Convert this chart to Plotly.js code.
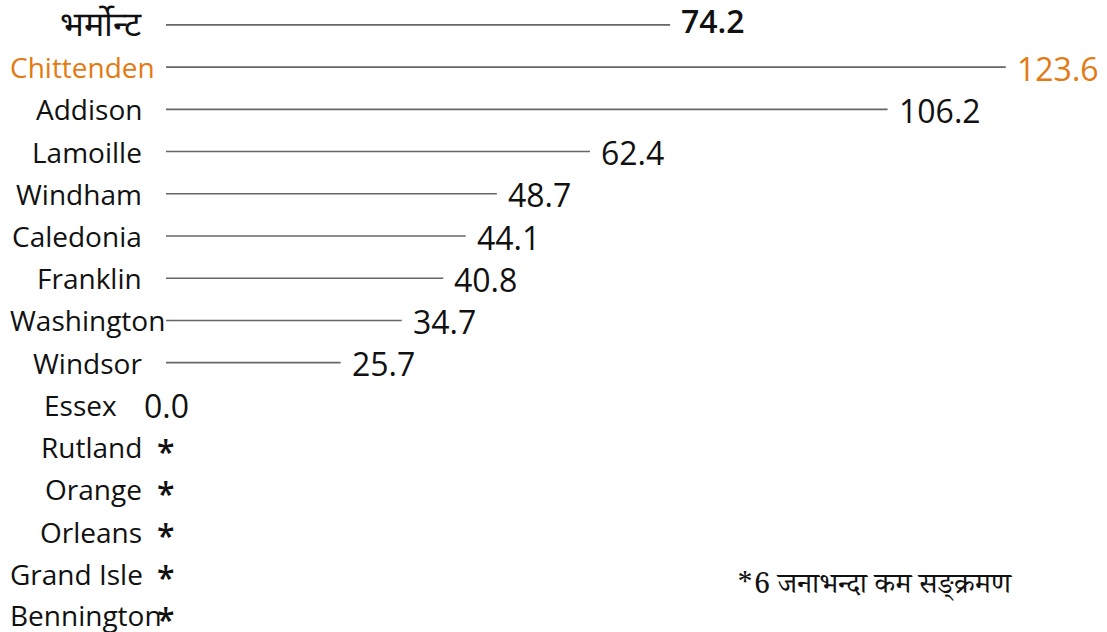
<!DOCTYPE html>
<html>
<head>
<meta charset="utf-8">
<script src="https://cdn.plot.ly/plotly-3.0.1.min.js"></script>
<style>html,body{margin:0;padding:0;background:#fff;}#chart{width:1107px;height:632px;}</style>
</head>
<body>
<div id="chart"></div>
<script>
const categories = ['भर्मोन्ट','Chittenden','Addison','Lamoille','Windham','Caledonia','Franklin','Washington','Windsor','Essex','Rutland','Orange','Orleans','Grand Isle','Bennington'];
const values = [74.2,123.6,106.2,62.4,48.7,44.1,40.8,34.7,25.7,0.0,null,null,null,null,null];
const valueLabels = ['74.2','123.6','106.2','62.4','48.7','44.1','40.8','34.7','25.7','0.0','*','*','*','*','*'];
const highlight = 'Chittenden';
const footnote = '*6 जनाभन्दा कम सङ्क्रमण';

const ORANGE = '#E37A12';
const LABEL_FONT = '"Open Sans", "Liberation Sans", Arial, sans-serif';
const LABEL_SIZE = 28;
const DEVA_SIZE = 34;
const VALUE_SIZE = 32;
const ML = 166, MR = 55, W = 1107, H = 632;

const canvas = document.createElement('canvas');
const ctx = canvas.getContext('2d');

// line trace built from the arrays
const lx = [], ly = [];
categories.forEach((c, i) => {
  if (values[i] !== null && values[i] > 0) { lx.push(0, values[i], null); ly.push(c, c, null); }
});

const annotations = [];
categories.forEach((c, i) => {
  const isHi = c === highlight;
  const col = isHi ? ORANGE : '#111';
  const isDeva = /[\u0900-\u097F]/.test(c);
  const size = isDeva ? DEVA_SIZE : LABEL_SIZE;
  ctx.font = size + 'px ' + LABEL_FONT;
  const w = ctx.measureText(c).width;
  const gap = (values[i] === 0) ? 49 : 24;
  const isLast = i === categories.length - 1;
  if (w > ML - gap - 10) {
    annotations.push({x: 0, y: c, xref: 'x', yref: 'y', text: c, showarrow: false,
      xanchor: 'left', xshift: -ML + 8, yanchor: 'middle', yshift: isLast ? 1 : 0,
      font: {family: LABEL_FONT, size: size, color: col}});
  } else {
    annotations.push({x: 0, y: c, xref: 'x', yref: 'y', text: c, showarrow: false,
      xanchor: 'right', xshift: -gap + 2, yanchor: 'middle', yshift: isDeva ? 2 : 0,
      font: {family: LABEL_FONT, size: size, color: col}});
  }
  const v = values[i];
  if (v !== null && v > 0) {
    annotations.push({x: v, y: c, xref: 'x', yref: 'y', text: valueLabels[i], showarrow: false,
      xanchor: 'left', xshift: 9, yanchor: 'middle', yshift: i === 0 ? 4 : -1,
      font: {family: LABEL_FONT, size: VALUE_SIZE, color: col, weight: i === 0 ? 600 : 400}});
  } else {
    annotations.push({x: 0, y: c, xref: 'x', yref: 'y', text: valueLabels[i], showarrow: false,
      xanchor: 'center', yanchor: 'middle', yshift: v === null ? -4 : -1,
      font: {family: LABEL_FONT, size: VALUE_SIZE, color: col, weight: v === null ? 600 : 400}});
  }
});

const plotW = W - ML - MR;
annotations.push({x: (734 - ML) / plotW, y: 1 - 588 / H, xref: 'paper', yref: 'paper',
  text: footnote, showarrow: false, xanchor: 'left', yanchor: 'middle',
  font: {family: '"Noto Serif Devanagari", "DejaVu Serif", "Liberation Serif", serif', size: 29, color: '#111'}});

const trace = {x: lx, y: ly, type: 'scatter', mode: 'lines',
  line: {color: '#666', width: 1.6}, hoverinfo: 'skip', showlegend: false, cliponaxis: false};

const layout = {
  width: W, height: H,
  margin: {l: ML, r: MR, t: 0, b: 0},
  paper_bgcolor: '#fff', plot_bgcolor: '#fff',
  xaxis: {range: [0, 130.4], visible: false, fixedrange: true},
  yaxis: {type: 'category', categoryarray: categories, categoryorder: 'array',
    range: [14.38, -0.59], visible: false, fixedrange: true},
  annotations: annotations,
  showlegend: false
};

Plotly.newPlot('chart', [trace], layout, {staticPlot: true, displayModeBar: false});
</script>
</body>
</html>
